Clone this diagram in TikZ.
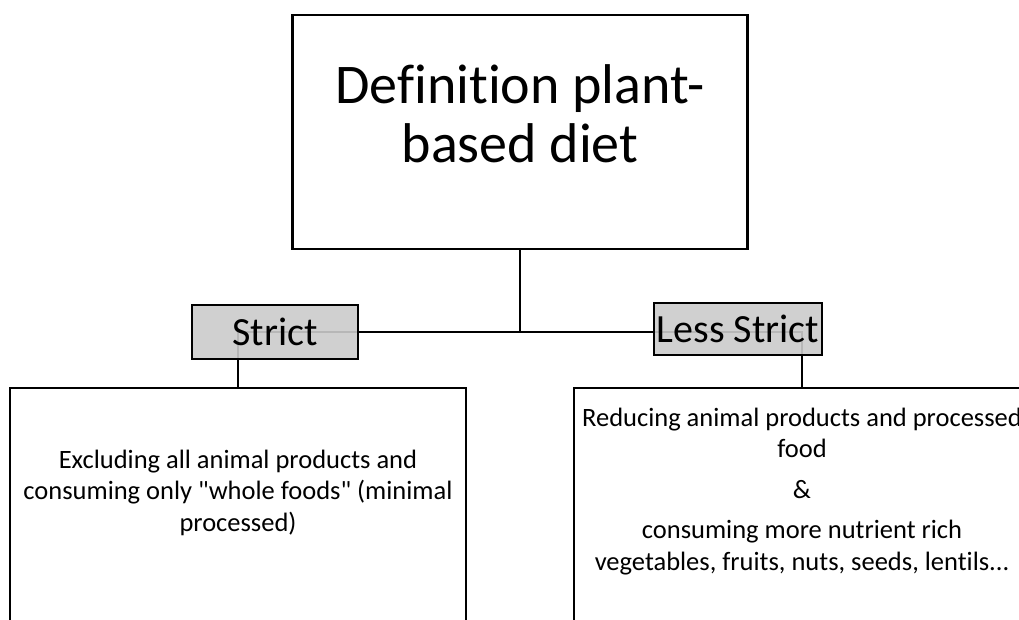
\documentclass[tikz,border=0pt]{standalone}
\usepackage{fontspec}
\setmainfont{Carlito}[Ligatures={TeXOff,NoCommon}]
\definecolor{tagfill}{RGB}{203,203,203}
\begin{document}
\begin{tikzpicture}[x=1pt,y=-1pt,
  box/.style={draw=black,line width=2.2pt,fill=white,inner sep=0pt},
  tag/.style={draw=black,line width=2.2pt,fill=tagfill,fill opacity=0.9,text opacity=1,draw opacity=1,inner sep=0pt,font=\fontsize{40}{48}\selectfont},
  conn/.style={draw=black,line width=2.5pt},
  body/.style={align=center,font=\fontsize{26.5}{31.5}\selectfont,inner sep=0pt},
  titletext/.style={align=center,font=\fontsize{56}{59}\selectfont,inner sep=0pt}]
\useasboundingbox (0,0) rectangle (1019,619);
\clip (0,0) rectangle (1019,619);
% boxes
\node[box,minimum width=455pt,minimum height=234pt] (top) at (520,132) {};
\node[box,minimum width=456pt,minimum height=272pt] (lbox) at (238,524) {};
\node[box,minimum width=456pt,minimum height=272pt] (rbox) at (802,524) {};
% junctions
\coordinate (j) at (520,332);
\coordinate (jl) at (238,332);
\coordinate (jr) at (802,332);
% connectors
\draw[conn] (top.south) -- (j);
\draw[conn] (lbox.north) -- (jl) -- (jr) -- (rbox.north);
% tags on top of connectors
\node[tag,minimum width=166pt,minimum height=54pt] (strict) at (275,332) {Strict};
\node[tag,minimum width=168pt,minimum height=52pt] (less) at (738,329) {Less Strict};
% texts (base anchor = baseline of the last line)
\node[titletext,anchor=base] (title) at (520,162) {Definition plant-\\based diet};
\node[body,anchor=base] (ltext) at (238,531) {Excluding all animal products and\\consuming only "whole foods" (minimal\\processed)};
\node[body,anchor=base] (rtext) at (802,570) {Reducing animal products and processed\\food\\[9pt]\&\\[9pt]consuming more nutrient rich\\vegetables, fruits, nuts, seeds, lentils...};
\end{tikzpicture}
\end{document}
